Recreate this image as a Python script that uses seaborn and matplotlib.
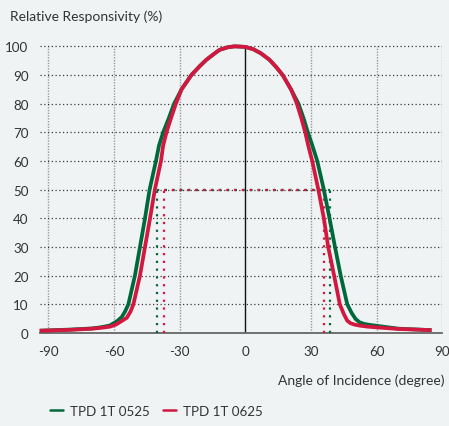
import matplotlib
matplotlib.use("Agg")
import matplotlib.pyplot as plt
import seaborn as sns
import pandas as pd
from matplotlib.lines import Line2D

# ---- data ----
series_names = ["TPD 1T 0525", "TPD 1T 0625"]
series_colors = ["#00693c", "#d3173f"]

angle_0525 = [-94, -80, -70, -66, -62, -60, -58.5, -56.5, -55, -53.5, -50.5, -48.2, -45.9,
              -43.8, -40.9, -39.5, -37.6, -35, -32.6, -29.2, -24.7, -21, -17.9, -14.5,
              -11.8, -8, -5, -2, 0, 3.6, 7, 11, 14, 17, 20.8, 24.2, 26.5, 28.5, 30.3, 32.8,
              35.8, 38.4, 40.9, 43.5, 46.5, 48.5, 50.3, 52, 54, 57, 60, 70, 85]
resp_0525 = [0.8, 1.2, 1.6, 2.0, 2.6, 3.5, 4.2, 5.6, 7.5, 10, 20, 30, 40,
             50, 60, 65.4, 70, 75, 80, 85, 90, 93, 95.3, 97.3,
             98.8, 99.7, 100, 99.9, 99.8, 99.0, 97.6, 95.3, 92.8, 90, 85, 80, 75, 70, 66, 60,
             50, 40, 30, 20, 10, 7, 4.9, 3.8, 3.2, 2.8, 2.5, 1.5, 1.0]

angle_0625 = [-94, -80, -70, -65, -62, -60, -58.8, -56.5, -54.2, -52.5, -51.2, -48.2, -45.9,
              -43.6, -41.4, -38.6, -37.6, -36.1, -34, -31.8, -29.2, -24.7, -21, -17.9,
              -14.5, -11.8, -8, -5, -2, 0, 3.6, 7, 11, 14, 17, 20.8, 23.5, 25.5, 27.3, 28.8,
              30.5, 33.3, 35.8, 37.8, 40.5, 43.1, 45, 46.5, 48, 50, 52, 56, 61, 70, 85]
resp_0625 = [0.8, 1.1, 1.5, 1.9, 2.2, 2.7, 3.1, 4.2, 5.3, 7.5, 10, 20, 30,
             40, 50, 60, 65.4, 70, 75, 80, 85, 90, 93, 95.3,
             97.3, 98.8, 99.7, 100, 99.9, 99.8, 99.0, 97.6, 95.3, 92.8, 90, 85, 80, 75, 70, 65,
             60, 50, 40, 30, 20, 10, 6.5, 4.3, 3.4, 2.9, 2.6, 2.2, 1.9, 1.4, 1.0]

# half-sensitivity markers (left, right) per series
half_0525 = [-40.6, 38.5]
half_0625 = [-37.1, 35.9]
half_level = 50

x_ticks = [-90, -60, -30, 0, 30, 60, 90]
x_tick_labels = ["-90", "-60", "-30", "0", "30", "60", "90"]
y_ticks = list(range(0, 101, 10))

y_title = "Relative Responsivity (%)"
x_title = "Angle of Incidence (degree)"

# ---- build ----
df = pd.concat([
    pd.DataFrame({"angle": angle_0525, "resp": resp_0525, "series": series_names[0]}),
    pd.DataFrame({"angle": angle_0625, "resp": resp_0625, "series": series_names[1]}),
], ignore_index=True)

bg = "#eff3f4"
txt = "#333333"
sns.set_theme(style="white")
plt.rcParams["font.family"] = ["Lato", "DejaVu Sans"]

fig = plt.figure(figsize=(4.49, 4.27), dpi=100, facecolor=bg)
ax = fig.add_axes([0.0884, 0.2178, 0.8971, 0.678])
ax.set_facecolor(bg)

xmin, xmax = -94, 90
ax.set_xlim(xmin, xmax)
ax.set_ylim(0, 101)

# grid
for xv in x_ticks:
    if xv == 0:
        continue
    ax.plot([xv, xv], [0, 100], color="#9a9a9a", lw=1.0, ls=(0, (1, 1)), zorder=1)
for yv in y_ticks[1:]:
    ax.plot([xmin, xmax], [yv, yv], color="#3a3a3a", lw=0.9, ls=(0, (1, 2)), zorder=1)
ax.plot([0, 0], [0, 100], color="#111111", lw=1.0, zorder=2)

# half markers
for hv, col, off in [(half_0525, series_colors[0], 0), (half_0625, series_colors[1], 3.5)]:
    for xv in hv:
        ax.plot([xv, xv], [0, half_level], color=col, lw=1.6, ls=(0, (1, 2.5)), zorder=3)
    ax.plot([hv[0], hv[1]], [half_level, half_level], color=col, lw=1.6,
            ls=(off, (1, 2.5)), zorder=3)

sns.lineplot(data=df, x="angle", y="resp", hue="series", hue_order=series_names,
             palette=series_colors, estimator=None, sort=False, lw=2.7, ax=ax,
             legend=False, zorder=4)
for ln in ax.lines[-2:]:
    ln.set_clip_on(False)
    ln.set_solid_capstyle("butt")
    ln.set_solid_joinstyle("round")

for s in ["top", "right", "left"]:
    ax.spines[s].set_visible(False)
ax.spines["bottom"].set_color("#666666")
ax.spines["bottom"].set_linewidth(1.3)
ax.spines["bottom"].set_zorder(2.5)

ax.set_xticks(x_ticks)
ax.set_xticklabels(x_tick_labels)
ax.set_yticks(y_ticks)
ax.set_yticklabels([str(v) for v in y_ticks])
ax.tick_params(axis="both", length=0, labelsize=9.6, colors=txt)
ax.tick_params(axis="x", pad=9)
ax.tick_params(axis="y", pad=8)
ax.set_xlabel("")
ax.set_ylabel("")

fig.text(10 / 449, 1 - 17 / 427, y_title, ha="left", va="center", fontsize=10, color=txt)
fig.text(444 / 449, 1 - 381 / 427, x_title, ha="right", va="center", fontsize=10, color=txt)

handles = [Line2D([0], [0], color=c, lw=1.8) for c in series_colors]
fig.legend(handles, series_names, loc="center left", bbox_to_anchor=(38 / 449, 1 - 412 / 427),
           ncol=2, frameon=False, fontsize=9.6, handlelength=1.0, handletextpad=0.5,
           columnspacing=1.0, labelcolor=txt)

fig.savefig("out.png", dpi=100, facecolor=bg)
